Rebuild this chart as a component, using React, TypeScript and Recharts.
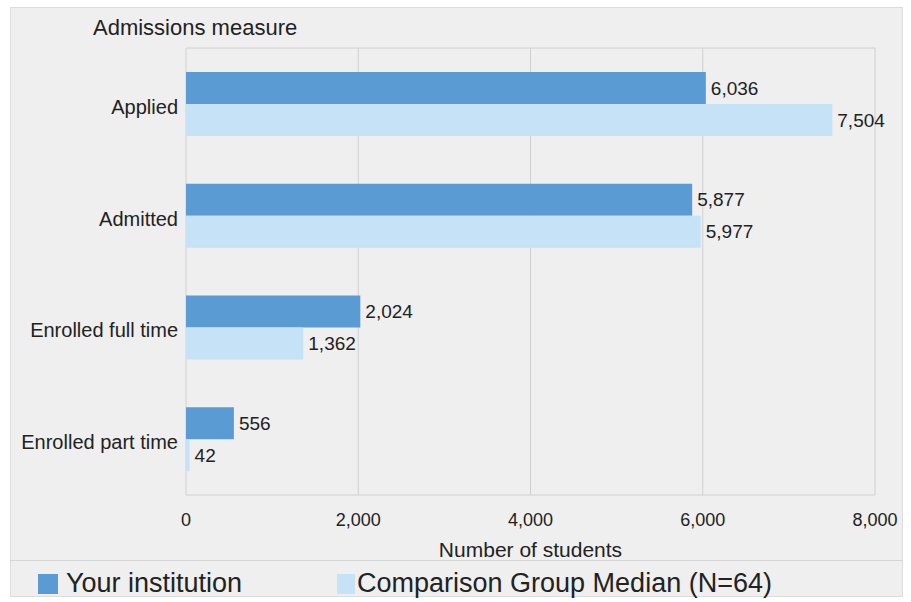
import { BarChart, Bar, XAxis, YAxis, CartesianGrid, LabelList } from 'recharts';

const measures = ['Applied', 'Admitted', 'Enrolled full time', 'Enrolled part time'];
const yourInstitution = [6036, 5877, 2024, 556];
const comparisonMedian = [7504, 5977, 1362, 42];
const xTicks = [0, 2000, 4000, 6000, 8000];

const DARK = '#5b9bd3';
const LIGHT = '#c5e2f7';
const TEXT = '#222';
const FONT = '"Liberation Sans", Arial, sans-serif';

const data = measures.map((name, i) => ({
  name,
  yours: yourInstitution[i],
  median: comparisonMedian[i],
}));

const fmt = (v: number) => v.toLocaleString('en-US');

export default function App() {
  return (
    <div style={{ position: 'absolute', left: 0, top: 0, width: 911, height: 602, background: '#fff', fontFamily: FONT }}>
      {/* panel */}
      <div
        style={{
          position: 'absolute',
          left: 10,
          top: 7,
          width: 893,
          height: 590,
          background: '#efefef',
          border: '1px solid #dcdcdc',
          boxSizing: 'border-box',
        }}
      />
      <div style={{ position: 'absolute', left: 93, top: 15, fontSize: 22, color: TEXT }}>Admissions measure</div>

      <div style={{ position: 'absolute', left: 0, top: 0 }}>
        <BarChart
          width={911}
          height={602}
          data={data}
          layout="vertical"
          margin={{ top: 48, right: 36, left: 0, bottom: 45 }}
          barSize={32}
          barGap={0}
        >
          <CartesianGrid horizontal={false} stroke="#d0d0d0" />
          <CartesianGrid vertical={false} horizontalPoints={[48]} stroke="#d0d0d0" />
          <XAxis
            type="number"
            domain={[0, 8000]}
            ticks={xTicks}
            tickFormatter={fmt}
            axisLine={{ stroke: '#d0d0d0' }}
            tickLine={false}
            tickMargin={12}
            height={62}
            tick={{ fontSize: 18, fill: TEXT, fontFamily: FONT }}
            label={{ value: 'Number of students', position: 'insideBottom', offset: 0, fontSize: 21, fill: TEXT, fontFamily: FONT }}
          />
          <YAxis
            type="category"
            dataKey="name"
            width={186}
            axisLine={false}
            tickLine={false}
            tick={{ fontSize: 20, fill: TEXT, fontFamily: FONT, dy: 3 }}
          />
          <Bar dataKey="yours" fill={DARK} isAnimationActive={false}>
            <LabelList dataKey="yours" position="right" offset={5} formatter={fmt} fontSize={19} fill={TEXT} fontFamily={FONT} />
          </Bar>
          <Bar dataKey="median" fill={LIGHT} isAnimationActive={false}>
            <LabelList dataKey="median" position="right" offset={5} formatter={fmt} fontSize={19} fill={TEXT} fontFamily={FONT} />
          </Bar>
        </BarChart>
      </div>

      {/* legend */}
      <div style={{ position: 'absolute', left: 10, top: 560, width: 893, borderTop: '1px solid #d6d6d6' }} />
      <div style={{ position: 'absolute', left: 38, top: 574, width: 20, height: 20, background: DARK }} />
      <div style={{ position: 'absolute', left: 66, top: 567, fontSize: 27, lineHeight: '32px', color: TEXT }}>Your institution</div>
      <div style={{ position: 'absolute', left: 337, top: 574, width: 18, height: 20, background: LIGHT }} />
      <div style={{ position: 'absolute', left: 357, top: 567, fontSize: 27, lineHeight: '32px', color: TEXT }}>
        Comparison Group Median (N=64)
      </div>
    </div>
  );
}
